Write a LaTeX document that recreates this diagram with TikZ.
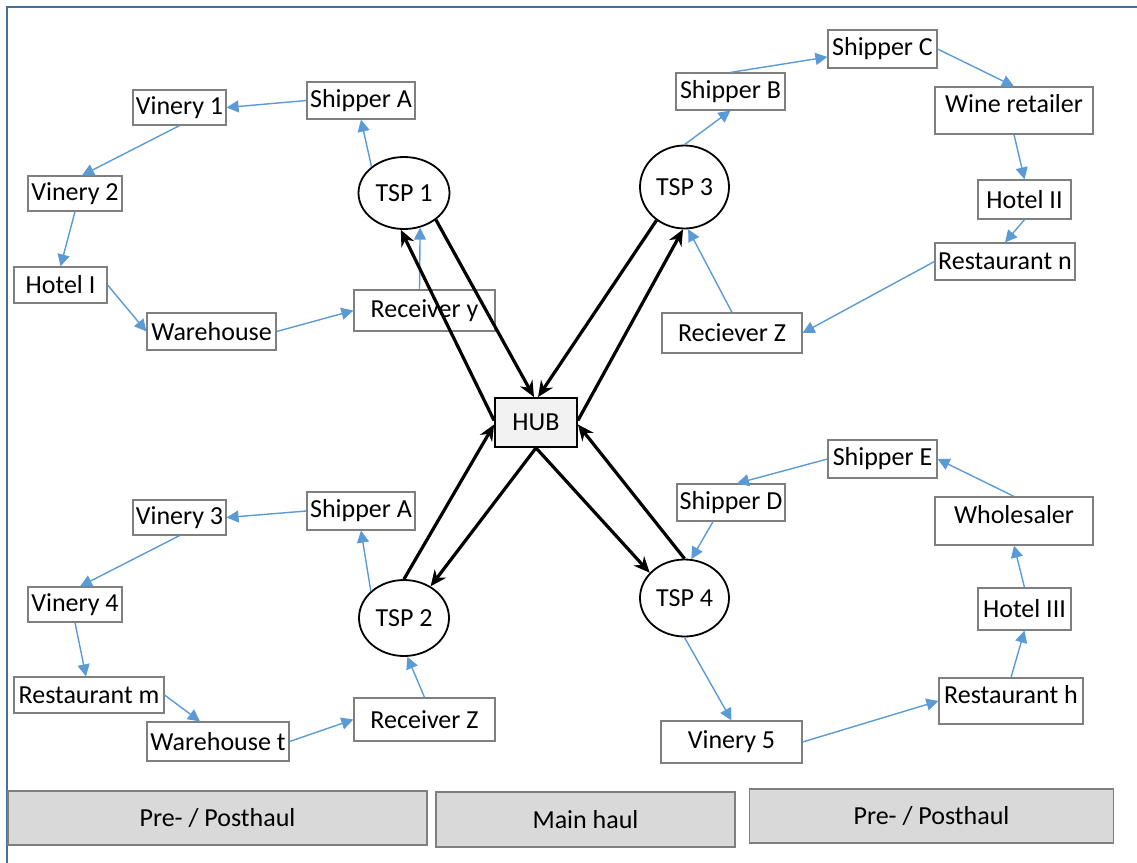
\documentclass[tikz,border=0pt]{standalone}
\usepackage{fontspec}
\setmainfont{Carlito}
\usetikzlibrary{arrows.meta,shapes.geometric}
\definecolor{flowblue}{HTML}{5B9BD5}
\definecolor{framecol}{HTML}{41719C}
\definecolor{boxgray}{HTML}{7F7F7F}
\definecolor{hubfill}{HTML}{F2F2F2}
\definecolor{barfill}{HTML}{D9D9D9}
\tikzset{
    every node/.style={font=\fontsize{13}{15}\selectfont},
    place/.style={draw=boxgray,line width=0.6pt,fill=white,inner sep=0pt},
    lift/.style={text height=9pt,text depth=7pt},
    tsp/.style={draw,ellipse,line width=0.9pt,fill=white,inner sep=0pt},
    hub/.style={draw,line width=0.9pt,fill=hubfill,inner sep=0pt},
    haul/.style={draw=boxgray,line width=0.9pt,fill=barfill,inner sep=0pt},
    flow/.style={flowblue,line width=0.7pt,-{Triangle[length=6pt,width=6pt]}},
    trunk/.style={line width=1.6pt,-{Stealth[length=8pt,width=7pt]}}
}

\begin{document}
\begin{tikzpicture}[x=0.5pt,y=-0.5pt]
    \useasboundingbox (0,0) rectangle (1137,863);
    \draw[framecol,line width=0.6pt] (1137,7) -- (7,7) -- (7,863);

    \node[place,minimum width=46.5pt,minimum height=17.5pt] (Vinery1) at (179.5,107.5) {Vinery 1};
    \node[place,minimum width=54pt,minimum height=18.5pt] (ShipA1) at (361,100.5) {Shipper A};
    \node[place,minimum width=47pt,minimum height=17.5pt] (Vinery2) at (75,193.5) {Vinery 2};
    \node[place,minimum width=46.5pt,minimum height=18pt] (HotelI) at (60.5,285) {Hotel I};
    \node[place,minimum width=64.5pt,minimum height=18.5pt] (Warehouse) at (211.5,331.5) {Warehouse};
    \node[place,minimum width=70.5pt,minimum height=20.5pt] (RecY) at (424.5,310.5) {Receiver y};
    \node[tsp,minimum width=45.5pt,minimum height=36pt] (TSP1) at (404,193) {TSP 1};

    \node[place,minimum width=54.5pt,minimum height=18.5pt] (ShipB) at (730.5,91.5) {Shipper B};
    \node[place,minimum width=54.5pt,minimum height=19pt] (ShipC) at (882.5,49) {Shipper C};
    \node[place,lift,minimum width=79pt,minimum height=23.5pt] (Wine) at (1014,110.5) {Wine retailer};
    \node[place,minimum width=46.5pt,minimum height=19.5pt] (HotelII) at (1024.5,199.5) {Hotel II};
    \node[place,minimum width=70pt,minimum height=18.5pt] (RestN) at (1005,261.5) {Restaurant n};
    \node[place,minimum width=70pt,minimum height=20pt] (RecZ1) at (732,333) {Reciever Z};
    \node[tsp,minimum width=44.5pt,minimum height=41.5pt] (TSP3) at (684.5,187) {TSP 3};

    \node[hub,minimum width=41pt,minimum height=24.5pt] (HUB) at (536,422.5) {HUB};

    \node[place,minimum width=46.5pt,minimum height=17.5pt] (Vinery3) at (179.5,517.5) {Vinery 3};
    \node[place,minimum width=54pt,minimum height=19pt] (ShipA2) at (361,511) {Shipper A};
    \node[place,minimum width=47pt,minimum height=17.5pt] (Vinery4) at (75,604.5) {Vinery 4};
    \node[place,minimum width=75pt,minimum height=18pt] (RestM) at (89,695) {Restaurant m};
    \node[place,minimum width=71pt,minimum height=19.5pt] (WhT) at (218,741.5) {Warehouse t};
    \node[place,minimum width=70.5pt,minimum height=21.5pt] (RecZ2) at (424.5,719.5) {Receiver Z};
    \node[tsp,minimum width=45pt,minimum height=38pt] (TSP2) at (404,618) {TSP 2};

    \node[place,minimum width=54.5pt,minimum height=19pt] (ShipE) at (882.5,459) {Shipper E};
    \node[place,minimum width=54pt,minimum height=18.5pt] (ShipD) at (731,502.5) {Shipper D};
    \node[place,lift,minimum width=79pt,minimum height=24pt] (Wholesaler) at (1014,521) {Wholesaler};
    \node[place,minimum width=46.5pt,minimum height=21pt] (HotelIII) at (1024.5,609) {Hotel III};
    \node[place,lift,minimum width=72pt,minimum height=23pt] (RestH) at (1011,701) {Restaurant h};
    \node[place,minimum width=70.5pt,minimum height=21pt] (Vinery5) at (731.5,742) {Vinery 5};
    \node[tsp,minimum width=44.5pt,minimum height=38.5pt] (TSP4) at (684.5,598) {TSP 4};

    \node[haul,minimum width=209.5pt,minimum height=27pt] (HaulL) at (217.5,818) {Pre- / Posthaul};
    \node[haul,minimum width=149.5pt,minimum height=27.5pt] (HaulM) at (585.5,819.5) {Main haul};
    \node[haul,minimum width=182pt,minimum height=27pt] (HaulR) at (931.5,816) {Pre- / Posthaul};

    \draw[flow] (TSP1.141) -- (ShipA1.south);
    \draw[flow] (ShipA1.west) -- (Vinery1.east);
    \draw[flow] (Vinery1.south) -- ([xshift=3.5pt]Vinery2.north);
    \draw[flow] (Vinery2.south) -- (HotelI.north);
    \draw[flow] (HotelI.east) -- (Warehouse.west);
    \draw[flow] (Warehouse.east) -- (RecY.west);
    \draw[flow] ([xshift=-2.5pt]RecY.north) -- (TSP1.-65);

    \draw[flow] (TSP3.north) -- (ShipB.south);
    \draw[flow] (ShipB.north) -- ([yshift=-4pt]ShipC.west);
    \draw[flow] (ShipC.east) -- (Wine.north);
    \draw[flow] (Wine.south) -- (HotelII.north);
    \draw[flow] (HotelII.south) -- (RestN.north);
    \draw[flow] (RestN.west) -- (RecZ1.east);
    \draw[flow] (RecZ1.north) -- (TSP3.-85);

    \draw[flow] (TSP2.141) -- (ShipA2.south);
    \draw[flow] (ShipA2.west) -- (Vinery3.east);
    \draw[flow] (Vinery3.south) -- ([xshift=2.5pt]Vinery4.north);
    \draw[flow] (Vinery4.south) -- ([xshift=-1.5pt]RestM.north);
    \draw[flow] (RestM.east) -- ([xshift=-9pt]WhT.north);
    \draw[flow] (WhT.east) -- (RecZ2.west);
    \draw[flow] (RecZ2.north) -- (TSP2.-85);

    \draw[flow] (Wholesaler.north) -- (ShipE.east);
    \draw[flow] (ShipE.west) -- ([xshift=3pt]ShipD.north);
    \draw[flow] ([xshift=-9pt]ShipD.south) -- (TSP4.80);
    \draw[flow] (TSP4.south) -- (Vinery5.north);
    \draw[flow] (Vinery5.east) -- (RestH.west);
    \draw[flow] (RestH.north) -- (HotelIII.south);
    \draw[flow] (HotelIII.north) -- (Wholesaler.south);

    \draw[trunk] (TSP1.-40) -- ([xshift=-1pt]HUB.north);
    \draw[trunk] ([yshift=1pt]HUB.west) -- (TSP1.-95);
    \draw[trunk] (TSP3.-130) -- ([xshift=1pt]HUB.north);
    \draw[trunk] ([yshift=1pt]HUB.east) -- (TSP3.-92);
    \draw[trunk] (HUB.south) -- (TSP2.50);
    \draw[trunk] (TSP2.north) -- ([yshift=-1pt]HUB.west);
    \draw[trunk] (HUB.south) -- (TSP4.144);
    \draw[trunk] (TSP4.north) -- ([yshift=-1pt]HUB.east);
\end{tikzpicture}
\end{document}
